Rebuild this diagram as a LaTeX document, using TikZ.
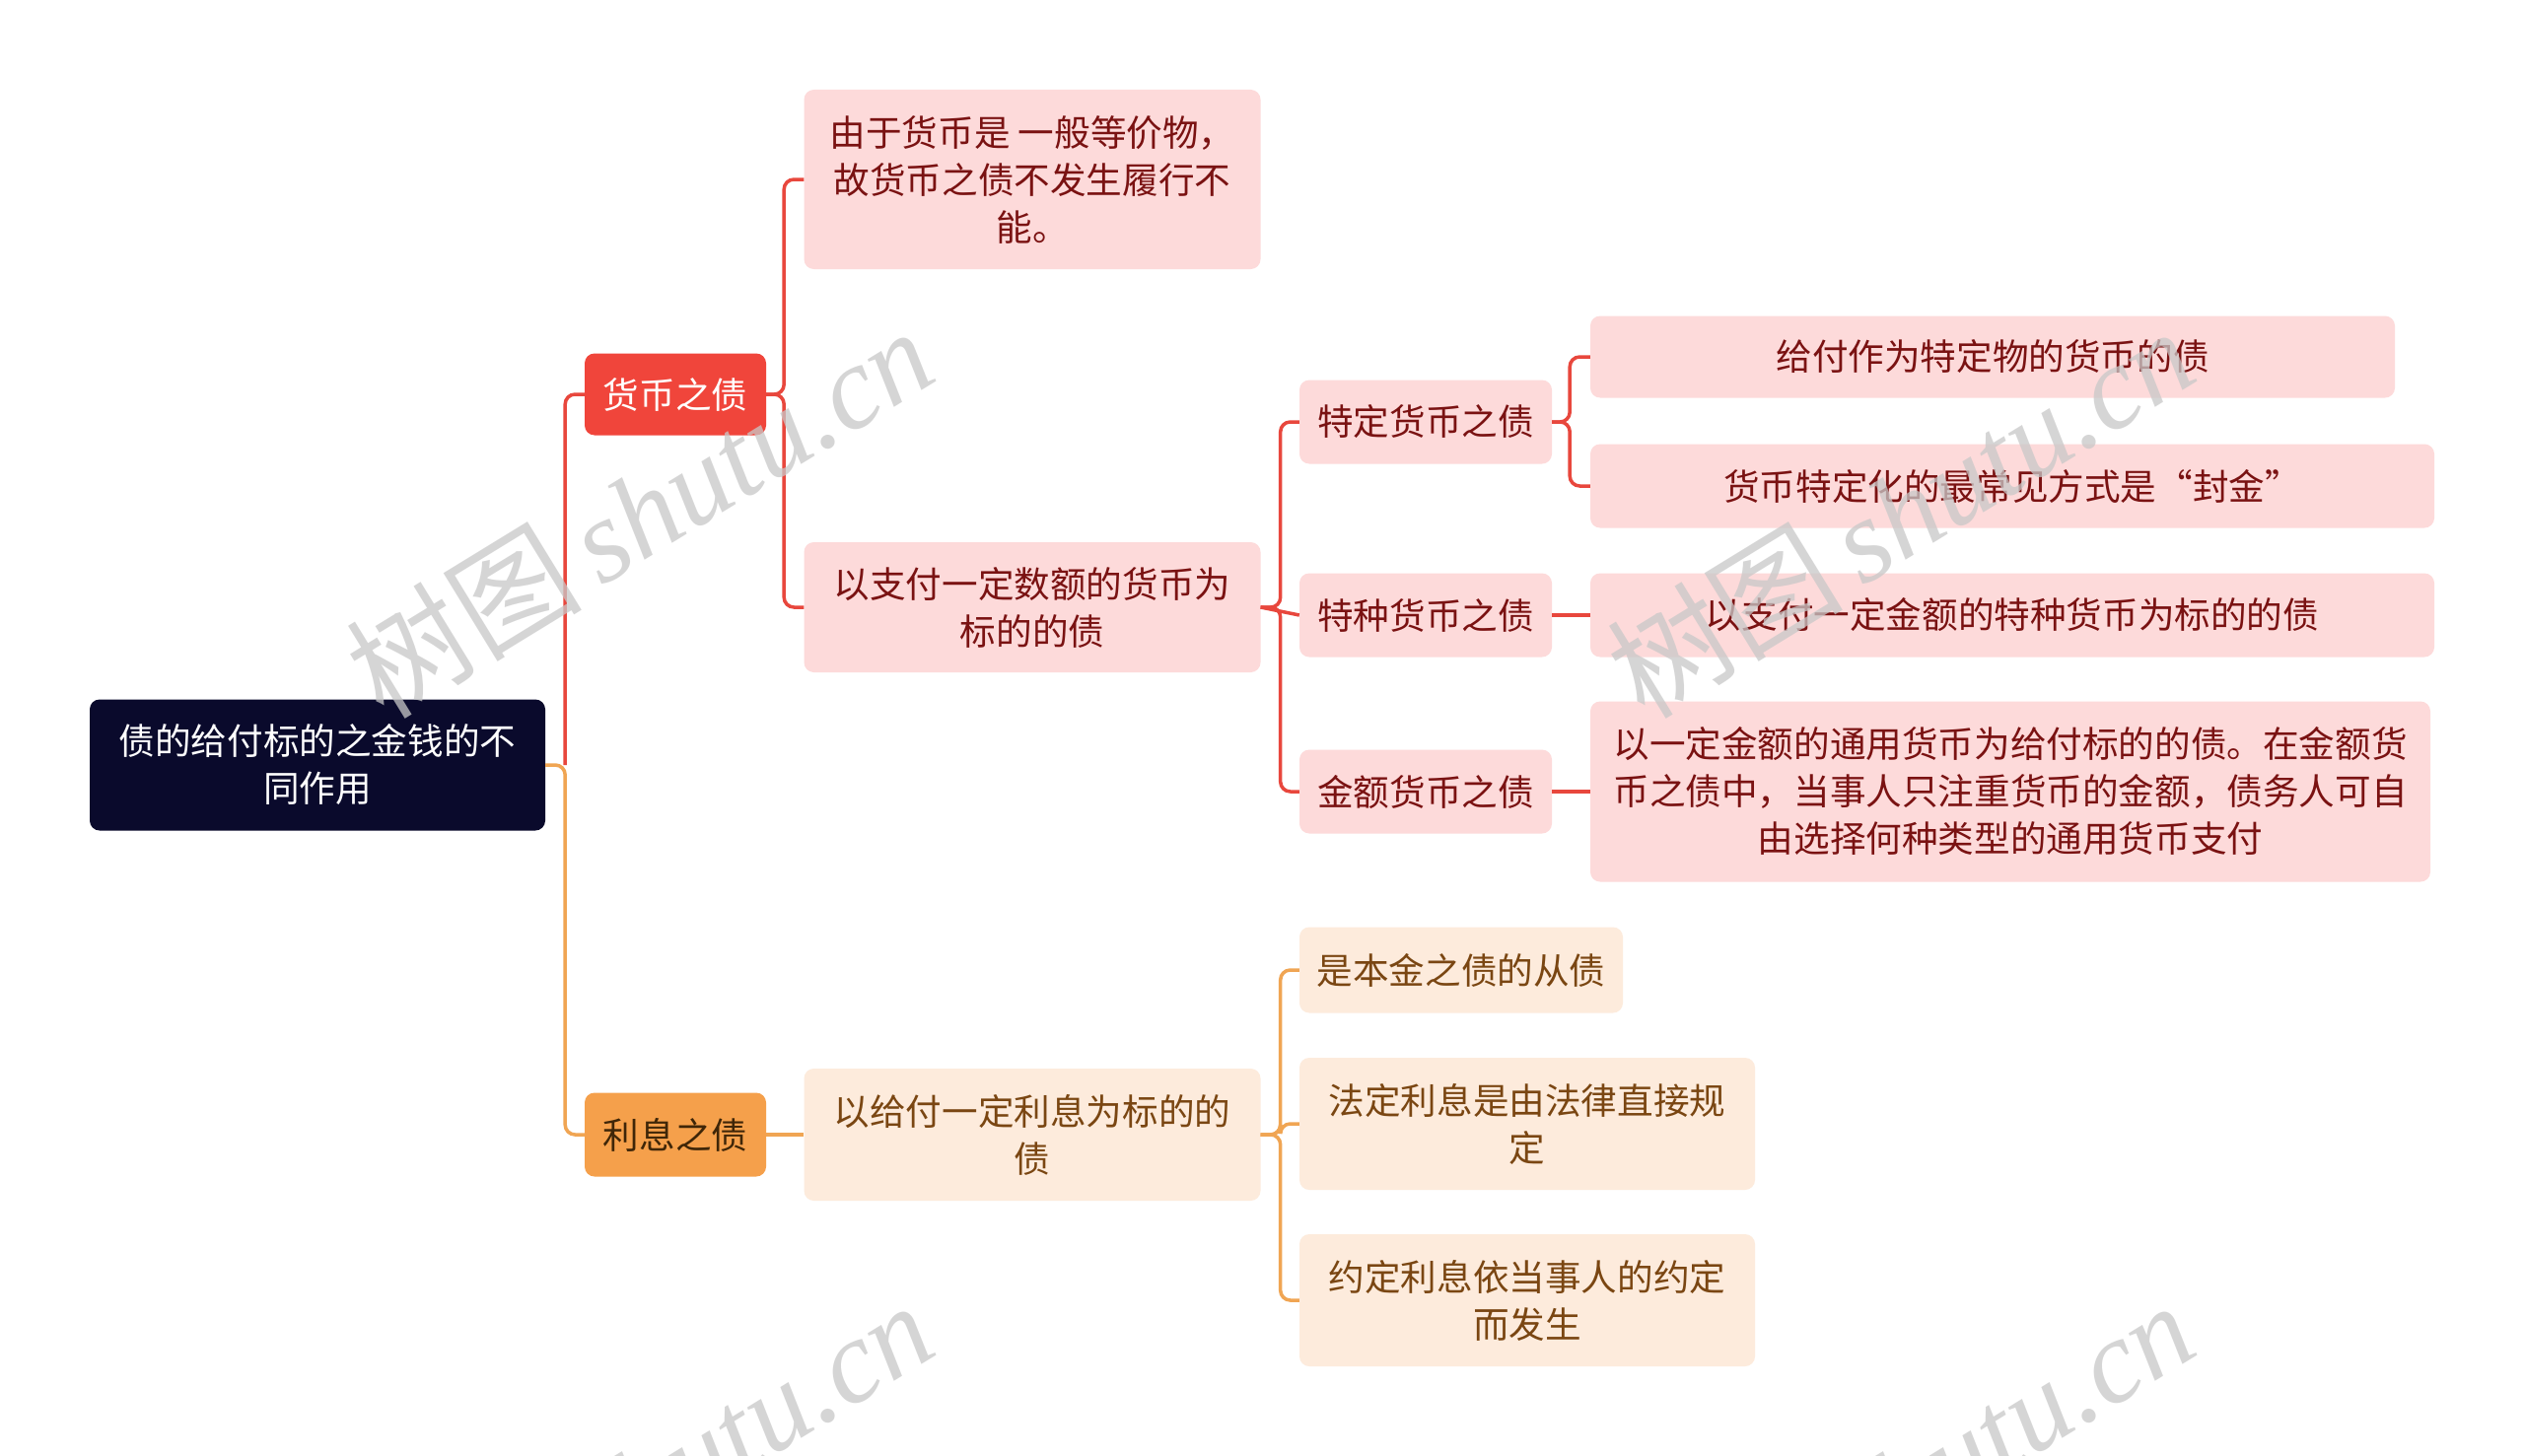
\documentclass[tikz,border=0pt]{standalone}
\usepackage{fontspec}
\setmainfont{Noto Sans CJK SC}
\newfontfamily\cjk{Noto Sans CJK SC}
\newfontfamily\wmserif{Liberation Serif}
\definecolor{rootc}{HTML}{0A0A2C}
\definecolor{redc}{HTML}{F0453B}
\definecolor{redln}{HTML}{E8473D}
\definecolor{pinkc}{HTML}{FDDADA}
\definecolor{pinktxt}{HTML}{7A1212}
\definecolor{orgc}{HTML}{F5A04B}
\definecolor{orgtxt}{HTML}{3F2608}
\definecolor{orgln}{HTML}{F0A553}
\definecolor{creamc}{HTML}{FDEBDC}
\definecolor{creamtxt}{HTML}{7A4612}
\definecolor{wmc}{HTML}{C8C8C8}
\tikzset{
  base/.style={rounded corners=10pt, inner sep=0pt, align=center,
    font=\fontsize{36.6pt}{48pt}\selectfont},
  rootbox/.style={base, fill=rootc, text=white},
  redbox/.style={base, fill=redc, text=white},
  pinkbox/.style={base, fill=pinkc, text=pinktxt},
  orgbox/.style={base, fill=orgc, text=orgtxt},
  creambox/.style={base, fill=creamc, text=creamtxt},
  rline/.style={draw=redln, line width=3.5pt, rounded corners=10pt},
  oline/.style={draw=orgln, line width=3.5pt, rounded corners=10pt},
  wm/.style={text=wmc, opacity=0.75, rotate=31.5, inner sep=0pt}
}
\begin{document}
\begin{tikzpicture}[x=1pt,y=-1pt]
\useasboundingbox (0,0) rectangle (2560,1477);
\fill[white] (0,0) rectangle (2560,1477);
% nodes
\node[rootbox, minimum width=462pt, minimum height=133pt] (root) at (322,776) {债的给付标的之金钱的不\\同作用};
\node[redbox, minimum width=184pt, minimum height=83pt] (hb) at (685,400) {货币之债};
\node[orgbox, minimum width=184pt, minimum height=85pt] (lx) at (685,1151) {利息之债};
\node[pinkbox, minimum width=463pt, minimum height=182pt] (a1) at (1047,182) {由于货币是 一般等价物，\\故货币之债不发生履行不\\能。};
\node[pinkbox, minimum width=463pt, minimum height=132pt] (a2) at (1047,616) {以支付一定数额的货币为\\标的的债};
\node[pinkbox, minimum width=256pt, minimum height=85pt] (t1) at (1446,428) {特定货币之债};
\node[pinkbox, minimum width=256pt, minimum height=85pt] (t2) at (1446,624) {特种货币之债};
\node[pinkbox, minimum width=256pt, minimum height=85pt] (t3) at (1446,803) {金额货币之债};
\node[pinkbox, minimum width=816pt, minimum height=83pt] (b1) at (2021,362) {给付作为特定物的货币的债};
\node[pinkbox, minimum width=856pt, minimum height=85pt] (b2) at (2041,493) {货币特定化的最常见方式是“封金”};
\node[pinkbox, minimum width=856pt, minimum height=85pt] (b3) at (2041,624) {以支付一定金额的特种货币为标的的债};
\node[pinkbox, minimum width=852pt, minimum height=183pt] (b4) at (2039,803) {以一定金额的通用货币为给付标的的债。在金额货\\币之债中，当事人只注重货币的金额，债务人可自\\由选择何种类型的通用货币支付};
\node[creambox, minimum width=463pt, minimum height=134pt] (c1) at (1047,1151) {以给付一定利息为标的的\\债};
\node[creambox, minimum width=328pt, minimum height=87pt] (d1) at (1482,984) {是本金之债的从债};
\node[creambox, minimum width=462pt, minimum height=134pt] (d2) at (1549,1140) {法定利息是由法律直接规\\定};
\node[creambox, minimum width=462pt, minimum height=134pt] (d3) at (1549,1319) {约定利息依当事人的约定\\而发生};
% connectors
\coordinate (rj) at ([xshift=20pt]root.east);
\draw[oline] (root.east) -- (rj) |- (lx.west);
\draw[rline] (rj) |- (hb.west);
\draw[rline] (hb.east) -- ++(18,0) |- (a1.west);
\draw[rline] (hb.east) -- ++(18,0) |- (a2.west);
\draw[rline] (a2.east) -- ++(20,0) |- (t1.west);
\draw[rline] (a2.east) -- (t2.west);
\draw[rline] (a2.east) -- ++(20,0) |- (t3.west);
\draw[rline] (t1.east) -- ++(18,0) |- (b1.west);
\draw[rline] (t1.east) -- ++(18,0) |- (b2.west);
\draw[rline] (t2.east) -- (b3.west);
\draw[rline] (t3.east) -- (b4.west);
\draw[oline] (lx.east) -- (c1.west);
\draw[oline] (c1.east) -- ++(20,0) |- (d1.west);
\draw[oline] (c1.east) -- ++(20,0) |- (d2.west);
\draw[oline] (c1.east) -- ++(20,0) |- (d3.west);
% watermarks
\foreach \wx/\wy/\wn in {648/519/w1, 1927/519/w2, 648/1507/w3, 1927/1507/w4}{
  \node[wm] (\wn) at (\wx,\wy) {\fontsize{120pt}{120pt}\selectfont\cjk 树图\,\wmserif\itshape shutu.cn};
}
\end{tikzpicture}
\end{document}
